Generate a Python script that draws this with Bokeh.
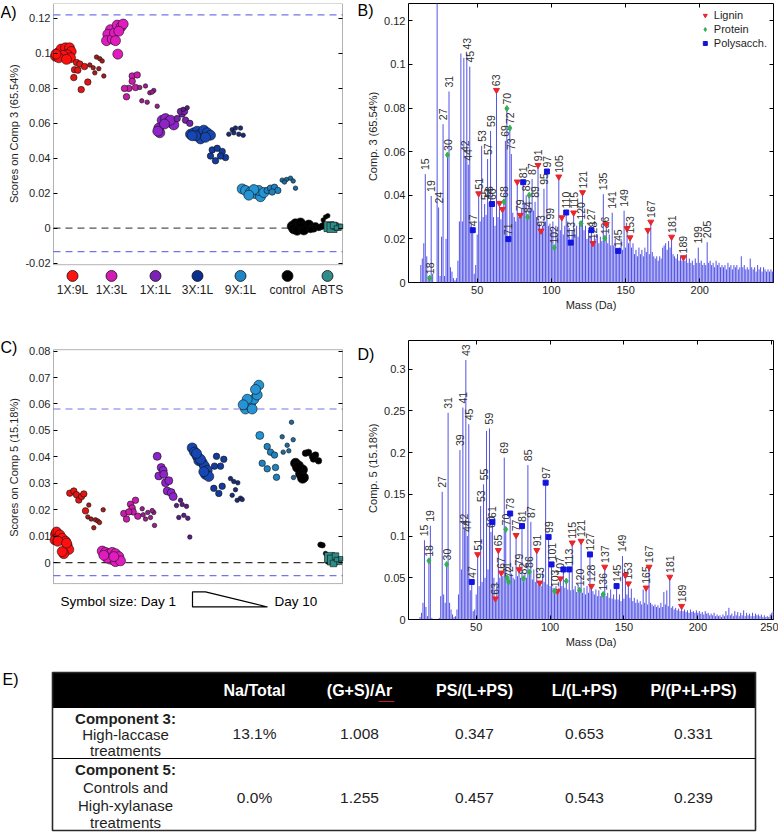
import math
from bokeh.plotting import figure
from bokeh.models import (Range1d, LinearAxis, FixedTicker, BoxAnnotation,
                          Label, ColumnDataSource, Legend, LegendItem)
from bokeh.layouts import row, column
from bokeh.embed import file_html
from bokeh.resources import INLINE
from bokeh.core.properties import value

# ======================= DATA =======================
TREATMENTS = ["1X:9L", "1X:3L", "1X:1L", "3X:1L", "9X:1L", "control", "ABTS"]
LEGEND_X = [72, 111, 155, 197, 240, 287, 327]

# Panel A: scores on component 3  (sample position, score, day)
A_1X9L = [(55.0, 0.0984, 1), (57.3, 0.1002, 1), (60.7, 0.1025, 1), (65.0, 0.1032, 1), (69.0, 0.1032, 1),
          (70.7, 0.1011, 1), (66.7, 0.0993, 1), (62.7, 0.0989, 1), (58.3, 0.0975, 1), (70.0, 0.0975, 1),
          (66.0, 0.0966, 1), (55.5, 0.0996, 1),
          (76.0, 0.0948, 5), (79.3, 0.0939, 5), (84.0, 0.0925, 5), (74.0, 0.0907, 5), (77.3, 0.0904, 5),
          (73.3, 0.0862, 5), (87.3, 0.0836, 5), (80.7, 0.0793, 5),
          (89.3, 0.0934, 9), (92.7, 0.0918, 9), (96.0, 0.0979, 9), (99.3, 0.0970, 9), (101.7, 0.0957, 9),
          (94.3, 0.0889, 9), (103.3, 0.0871, 9), (98.3, 0.0913, 9)]
A_1X3L = [(110.0, 0.1136, 1), (107.3, 0.1109, 1), (106.0, 0.1073, 1), (111.7, 0.1082, 1), (114.0, 0.1118, 1),
          (116.7, 0.1162, 1), (120.7, 0.1153, 1), (122.7, 0.1168, 1), (118.3, 0.1127, 1), (115.0, 0.1073, 1),
          (117.3, 0.0996, 1),
          (131.7, 0.0871, 5), (136.7, 0.0877, 5), (128.3, 0.0800, 5), (124.0, 0.0800, 5), (126.0, 0.0752, 5),
          (131.7, 0.0841, 5), (135.0, 0.0805, 5),
          (139.3, 0.0805, 9), (145.0, 0.0814, 9), (149.3, 0.0775, 9), (153.3, 0.0788, 9), (141.3, 0.0729, 9),
          (146.7, 0.0721, 9), (156.7, 0.0698, 9), (151.7, 0.0779, 9)]
A_1X1L = [(158.3, 0.0573, 1), (159.3, 0.0546, 1), (161.7, 0.0618, 1), (165.0, 0.0627, 1), (168.3, 0.0609, 1),
          (171.7, 0.0600, 1), (173.3, 0.0591, 1), (170.0, 0.0618, 1), (164.0, 0.0596, 1), (157.3, 0.0555, 1),
          (176.7, 0.0627, 5), (181.7, 0.0654, 5), (185.0, 0.0618, 5), (180.0, 0.0668, 5), (184.0, 0.0668, 5),
          (189.3, 0.0600, 5),
          (186.7, 0.0689, 9), (182.7, 0.0680, 9)]
A_3X1L = [(190.0, 0.0538, 1), (193.3, 0.0546, 1), (196.7, 0.0555, 1), (200.0, 0.0538, 1), (203.3, 0.0561, 1),
          (206.7, 0.0546, 1), (210.0, 0.0532, 1), (200.0, 0.0511, 1), (195.0, 0.0529, 1), (205.0, 0.0520, 1),
          (191.7, 0.0529, 1),
          (211.7, 0.0448, 5), (216.7, 0.0457, 5), (221.7, 0.0439, 5), (215.0, 0.0386, 5), (225.0, 0.0404, 5),
          (210.0, 0.0413, 5), (220.0, 0.0413, 5),
          (228.3, 0.0538, 9), (231.7, 0.0564, 9), (235.0, 0.0573, 9), (238.3, 0.0538, 9), (233.3, 0.0546, 9),
          (242.7, 0.0532, 9), (240.0, 0.0573, 9)]
A_9X1L = [(241.7, 0.0225, 1), (245.0, 0.0216, 1), (250.0, 0.0207, 1), (255.0, 0.0198, 1), (260.0, 0.0180, 1),
          (258.3, 0.0216, 1), (253.3, 0.0221, 1), (263.3, 0.0204, 1), (248.3, 0.0189, 1),
          (266.7, 0.0216, 5), (270.0, 0.0229, 5), (274.0, 0.0234, 5), (277.3, 0.0216, 5), (271.7, 0.0207, 5),
          (281.7, 0.0275, 9), (286.0, 0.0279, 9), (290.0, 0.0286, 9), (292.7, 0.0270, 9), (295.0, 0.0229, 9),
          (284.0, 0.0264, 9)]
A_CONTROL = [(291.7, 0.0011, 1), (295.0, 0.0025, 1), (298.3, 0.0002, 1), (301.7, 0.0014, 1), (305.0, 0.0007, 1),
             (308.3, 0.0018, 1), (293.3, -0.0004, 1), (296.7, -0.0012, 1), (303.3, -0.0010, 1), (300.0, 0.0030, 1),
             (311.7, 0.0007, 5), (315.0, 0.0014, 5), (318.3, 0.0004, 5), (313.3, -0.0004, 5), (321.7, 0.0011, 5),
             (310.0, -0.0008, 5),
             (322.7, 0.0047, 9), (325.0, 0.0064, 9), (327.3, 0.0071, 9), (323.3, 0.0025, 9)]
A_ABTS = [(328.5, 0.0009, 1), (331.5, 0.0004, 1), (334.5, 0.0012, 5), (337.5, 0.0006, 5), (340.0, 0.0010, 9),
          (333.0, 0.0016, 5), (336.0, 0.0001, 9)]
A_LIMITS = [0.1221, -0.0134]

# Panel C: scores on component 5
C_1X9L = [(55.0, 0.0107, 1), (56.0, 0.0116, 1), (59.3, 0.0105, 1), (61.7, 0.0092, 1), (65.0, 0.0081, 1),
          (66.7, 0.0065, 1), (68.3, 0.0050, 1), (63.3, 0.0034, 1), (61.7, 0.0042, 1), (54.5, 0.0086, 1),
          (57.3, 0.0081, 1), (66.0, 0.0074, 1),
          (69.3, 0.0263, 5), (73.3, 0.0271, 5), (76.0, 0.0257, 5), (78.3, 0.0237, 5), (81.0, 0.0250, 5),
          (83.3, 0.0260, 5), (85.0, 0.0196, 5),
          (88.3, 0.0218, 9), (87.3, 0.0173, 9), (90.7, 0.0165, 9), (93.3, 0.0132, 9), (95.0, 0.0162, 9),
          (97.3, 0.0158, 9), (99.0, 0.0152, 9), (102.7, 0.0200, 9)]
C_1X3L = [(101.7, 0.0044, 1), (105.0, 0.0039, 1), (108.3, 0.0034, 1), (111.7, 0.0039, 1), (115.0, 0.0034, 1),
          (118.3, 0.0023, 1), (110.0, 0.0013, 1), (115.0, 0.0004, 1), (106.7, 0.0018, 1), (120.0, 0.0007, 1),
          (113.3, 0.0023, 1), (103.3, 0.0028, 1),
          (123.3, 0.0186, 5), (126.0, 0.0165, 5), (130.0, 0.0221, 5), (131.7, 0.0207, 5), (135.0, 0.0236, 5),
          (137.3, 0.0176, 5), (132.7, 0.0192, 5), (128.3, 0.0192, 5),
          (141.7, 0.0204, 9), (145.0, 0.0165, 9), (147.3, 0.0190, 9), (150.0, 0.0171, 9), (153.3, 0.0190, 9),
          (154.0, 0.0141, 9), (142.7, 0.0181, 9), (151.7, 0.0197, 9)]
C_1X1L = [(156.7, 0.0402, 3), (158.3, 0.0328, 3), (160.7, 0.0360, 3), (162.7, 0.0349, 3), (165.0, 0.0302, 3),
          (168.3, 0.0310, 3), (166.7, 0.0271, 3), (170.7, 0.0265, 3), (172.7, 0.0250, 3), (163.3, 0.0334, 3),
          (176.0, 0.0216, 9), (180.0, 0.0236, 9), (181.7, 0.0220, 9), (186.0, 0.0213, 9), (178.3, 0.0171, 9),
          (183.3, 0.0179, 9), (187.3, 0.0168, 9), (189.3, 0.0097, 9)]
C_3X1L = [(191.7, 0.0434, 1), (194.0, 0.0418, 1), (196.7, 0.0402, 1), (198.3, 0.0386, 1), (201.7, 0.0379, 1),
          (204.0, 0.0365, 1), (206.7, 0.0349, 1), (205.0, 0.0334, 1), (208.3, 0.0326, 1), (203.3, 0.0344, 1),
          (200.0, 0.0391, 1), (196.0, 0.0413, 1),
          (213.3, 0.0281, 5), (218.3, 0.0262, 5), (221.7, 0.0289, 5), (216.0, 0.0402, 5), (220.0, 0.0365, 5),
          (223.3, 0.0391, 5), (214.0, 0.0365, 5),
          (230.0, 0.0318, 9), (233.3, 0.0307, 9), (237.3, 0.0302, 9), (235.0, 0.0276, 9), (240.0, 0.0244, 9),
          (231.7, 0.0255, 9), (236.7, 0.0236, 9), (241.7, 0.0239, 9)]
C_9X1L = [(245.0, 0.0581, 1), (248.3, 0.0597, 1), (250.7, 0.0607, 1), (253.3, 0.0618, 1), (256.7, 0.0634, 1),
          (258.3, 0.0671, 1), (255.0, 0.0655, 1), (246.7, 0.0618, 1), (242.7, 0.0597, 1), (251.7, 0.0581, 1),
          (259.3, 0.0481, 3),
          (266.7, 0.0439, 5), (270.0, 0.0418, 5), (274.0, 0.0407, 5), (261.7, 0.0376, 5), (266.7, 0.0355, 5),
          (275.0, 0.0360, 5), (276.0, 0.0323, 5),
          (281.7, 0.0476, 9), (286.7, 0.0444, 9), (282.7, 0.0418, 9), (288.3, 0.0423, 9), (292.7, 0.0465, 9),
          (291.0, 0.0531, 9), (293.0, 0.0322, 9)]
C_CONTROL = [(295.0, 0.0376, 1), (298.0, 0.0366, 1), (302.0, 0.0351, 1), (300.0, 0.0335, 1), (303.0, 0.0322, 1),
             (297.0, 0.0360, 1), (302.0, 0.0319, 1),
             (305.0, 0.0414, 5), (308.0, 0.0417, 5), (312.0, 0.0401, 5), (315.0, 0.0407, 5), (318.0, 0.0385, 5),
             (313.0, 0.0392, 5),
             (322.0, 0.0066, 7), (320.0, 0.0068, 7), (325.0, 0.0035, 9), (327.0, 0.0003, 9)]
C_ABTS = [(329.0, 0.0020, 1), (332.0, 0.0010, 1), (335.0, 0.0025, 5), (338.0, 0.0005, 5), (340.0, 0.0015, 9),
          (333.0, -0.0003, 5), (336.0, 0.0012, 9)]
C_LIMITS = [0.0581, -0.0049]

# Panel B: loadings on component 3, masses 12..250
B_MASS = list(range(12, 251))
B_VAL = [0.008, 0.011, 0.018, 0.0497, 0.012, 0.003, 0.002, 0.0397, 0.004, 0.000,
         0.000, 0.160, 0.0344, 0.003, 0.021, 0.0726, 0.003, 0.020, 0.0585, 0.0876,
         0.007, 0.005, 0.002, 0.001, 0.002, 0.010, 0.028, 0.105, 0.028, 0.103,
         0.058, 0.105, 0.054, 0.099, 0.027, 0.024, 0.004, 0.008, 0.022, 0.0408,
         0.028, 0.0627, 0.030, 0.036, 0.031, 0.0566, 0.037, 0.0695, 0.036, 0.030,
         0.026, 0.0882, 0.030, 0.0364, 0.029, 0.0336, 0.037, 0.065, 0.0798, 0.0199,
         0.0708, 0.0589, 0.032, 0.030, 0.028, 0.0462, 0.030, 0.0309, 0.034, 0.046,
         0.036, 0.040, 0.030, 0.040, 0.034, 0.0475, 0.033, 0.037, 0.030, 0.0538,
         0.027, 0.0237, 0.026, 0.043, 0.028, 0.0509, 0.026, 0.027, 0.024, 0.028,
         0.016, 0.026, 0.022, 0.0485, 0.024, 0.0298, 0.022, 0.026, 0.0321, 0.028,
         0.025, 0.0183, 0.024, 0.032, 0.022, 0.026, 0.021, 0.028, 0.027, 0.0413,
         0.024, 0.026, 0.020, 0.024, 0.021, 0.024, 0.018, 0.022, 0.020, 0.022,
         0.018, 0.021, 0.019, 0.0405, 0.0203, 0.0267, 0.018, 0.022, 0.017, 0.032,
         0.017, 0.020, 0.015, 0.0145, 0.016, 0.020, 0.015, 0.0329, 0.016, 0.0248,
         0.018, 0.0206, 0.016, 0.018, 0.013, 0.015, 0.012, 0.016, 0.013, 0.015,
         0.012, 0.016, 0.014, 0.024, 0.013, 0.0278, 0.014, 0.012, 0.011, 0.012,
         0.010, 0.012, 0.011, 0.016, 0.017, 0.018, 0.015, 0.019, 0.016, 0.0209,
         0.013, 0.012, 0.011, 0.013, 0.010, 0.012, 0.010, 0.0115, 0.010, 0.013,
         0.009, 0.011, 0.009, 0.010, 0.008, 0.011, 0.009, 0.016, 0.009, 0.010,
         0.008, 0.009, 0.008, 0.0185, 0.009, 0.010, 0.008, 0.009, 0.007, 0.010,
         0.008, 0.009, 0.007, 0.008, 0.007, 0.008, 0.006, 0.009, 0.007, 0.008,
         0.006, 0.008, 0.007, 0.008, 0.006, 0.007, 0.012, 0.007, 0.008, 0.006,
         0.007, 0.006, 0.011, 0.007, 0.006, 0.007, 0.005, 0.008, 0.006, 0.007,
         0.005, 0.007, 0.006, 0.005, 0.006, 0.005, 0.006, 0.005, 0.005]
B_LIGNIN = [51, 63, 65, 67, 77, 79, 91, 93, 105, 107, 115, 121, 128, 137, 151, 153, 165, 167, 181, 189]
B_PROTEIN = [18, 30, 68, 70, 72, 84, 85, 102, 120, 136]
B_POLYSACCH = [47, 60, 71, 81, 97, 110, 113, 127, 145]
B_LABELED = [15, 18, 19, 24, 27, 30, 31, 42, 43, 44, 45, 47, 51, 53, 55, 57, 58, 59, 60, 63, 68, 69, 70,
             71, 72, 73, 79, 81, 83, 84, 87, 89, 91, 93, 95, 97, 99, 102, 105, 110, 113, 115, 120, 121,
             127, 128, 135, 136, 141, 145, 149, 153, 167, 181, 189, 199, 205]

# Panel D: loadings on component 5, masses 12..252
D_MASS = list(range(12, 253))
D_VAL = [0.003, 0.008, 0.020, 0.095, 0.015, 0.004, 0.0703, 0.1123, 0.002, 0.000,
         0.000, 0.000, 0.000, 0.002, 0.028, 0.153, 0.030, 0.020, 0.066, 0.2477,
         0.020, 0.012, 0.006, 0.003, 0.004, 0.012, 0.030, 0.203, 0.060, 0.254,
         0.108, 0.311, 0.100, 0.234, 0.035, 0.045, 0.010, 0.012, 0.030, 0.078,
         0.040, 0.136, 0.045, 0.162, 0.050, 0.226, 0.060, 0.229, 0.105, 0.117,
         0.050, 0.025, 0.045, 0.083, 0.050, 0.056, 0.052, 0.194, 0.108, 0.050,
         0.045, 0.127, 0.055, 0.050, 0.048, 0.101, 0.052, 0.060, 0.050, 0.112,
         0.049, 0.055, 0.050, 0.185, 0.057, 0.117, 0.048, 0.060, 0.045, 0.083,
         0.042, 0.044, 0.040, 0.058, 0.045, 0.164, 0.042, 0.099, 0.040, 0.066,
         0.038, 0.034, 0.040, 0.034, 0.038, 0.049, 0.040, 0.060, 0.038, 0.046,
         0.036, 0.060, 0.035, 0.092, 0.036, 0.040, 0.033, 0.042, 0.035, 0.094,
         0.032, 0.038, 0.030, 0.040, 0.032, 0.078, 0.040, 0.034, 0.030, 0.036,
         0.028, 0.035, 0.028, 0.032, 0.030, 0.063, 0.028, 0.032, 0.026, 0.036,
         0.025, 0.030, 0.024, 0.040, 0.024, 0.030, 0.022, 0.076, 0.025, 0.053,
         0.030, 0.043, 0.026, 0.037, 0.022, 0.026, 0.020, 0.024, 0.020, 0.022,
         0.018, 0.036, 0.020, 0.038, 0.018, 0.063, 0.020, 0.018, 0.016, 0.018,
         0.015, 0.017, 0.014, 0.020, 0.015, 0.033, 0.018, 0.035, 0.016, 0.051,
         0.014, 0.016, 0.012, 0.014, 0.011, 0.013, 0.010, 0.016, 0.010, 0.012,
         0.009, 0.011, 0.008, 0.012, 0.009, 0.010, 0.008, 0.011, 0.008, 0.010,
         0.007, 0.009, 0.006, 0.010, 0.007, 0.008, 0.005, 0.007, 0.005, 0.008,
         0.004, 0.006, 0.004, 0.005, 0.003, 0.006, 0.004, 0.010, 0.005, 0.014,
         0.005, 0.007, 0.004, 0.010, 0.005, 0.009, 0.004, 0.008, 0.005, 0.011,
         0.004, 0.008, 0.005, 0.007, 0.004, 0.008, 0.004, 0.007, 0.005, 0.006,
         0.004, 0.006, 0.003, 0.005, 0.003, 0.004, 0.003, 0.006, 0.008, 0.010, 0.007]
D_LIGNIN = [51, 63, 65, 67, 77, 79, 91, 93, 105, 107, 115, 121, 128, 137, 151, 153, 165, 167, 181, 189]
D_PROTEIN = [18, 30, 70, 71, 72, 82, 86, 103, 111, 120, 136]
D_POLYSACCH = [47, 61, 73, 81, 97, 99, 101, 109, 113, 127, 145]
D_LABELED = [15, 18, 19, 27, 30, 31, 39, 41, 42, 43, 44, 45, 47, 51, 53, 55, 59, 60, 61, 63, 65, 67, 69,
             70, 71, 72, 73, 77, 79, 81, 82, 85, 86, 87, 91, 93, 97, 99, 101, 103, 107, 113, 115, 120,
             121, 127, 128, 136, 137, 145, 149, 153, 165, 167, 181, 189]

# Table E
TABLE_HEADERS = ["Na/Total", "(G+S)/Ar", "PS/(L+PS)", "L/(L+PS)", "P/(P+L+PS)"]
TABLE_ROW1_NAME = ["Component 3:", "High-laccase", "treatments"]
TABLE_ROW1 = ["13.1%", "1.008", "0.347", "0.653", "0.331"]
TABLE_ROW2_NAME = ["Component 5:", "Controls and", "High-xylanase", "treatments"]
TABLE_ROW2 = ["0.0%", "1.255", "0.457", "0.543", "0.239"]

A_YTICKS = [-0.02, 0, 0.02, 0.04, 0.06, 0.08, 0.1, 0.12]
A_YLABELS = ["-0.02", "0", "0.02", "0.04", "0.06", "0.08", "0.1", "0.12"]
C_YTICKS = [0, 0.01, 0.02, 0.03, 0.04, 0.05, 0.06, 0.07, 0.08]
C_YLABELS = ["0", "0.01", "0.02", "0.03", "0.04", "0.05", "0.06", "0.07", "0.08"]
B_YTICKS = [0, 0.02, 0.04, 0.06, 0.08, 0.1, 0.12]
B_YLABELS = ["0", "0.02", "0.04", "0.06", "0.08", "0.1", "0.12"]
D_YTICKS = [0, 0.05, 0.1, 0.15, 0.2, 0.25, 0.3]
D_YLABELS = ["0", "0.05", "0.1", "0.15", "0.2", "0.25", "0.3"]
B_XTICKS = [50, 100, 150, 200]
D_XTICKS = [50, 100, 150, 200, 250]

# ======================= STYLE =======================
FONT = "Liberation Sans"
INK = "#1e1e1e"
BAR = "#5252E6"
LIMIT_BLUE = "#7474EA"
GROUP_SHADES = {
    "1X:9L": ("#FF1010", "#E01616", "#A41C1C"),
    "1X:3L": ("#E01CBE", "#C91CAA", "#9A1F8C"),
    "1X:1L": ("#8E24C8", "#7622AA", "#5B1C88"),
    "3X:1L": ("#1646B2", "#133A9C", "#1B2D7A"),
    "9X:1L": ("#2494D4", "#1F82BE", "#1B6C9E"),
    "control": ("#000000", "#000000", "#000000"),
    "ABTS": ("#2E8C86", "#2E8C86", "#2E8C86"),
}
LEGEND_COLORS = ["#FF1414", "#D21CB4", "#7A22B5", "#0B2F8F", "#1E86C6", "#000000", "#2F8C89"]
DAY_SIZE = {1: 10.0, 3: 8.0, 5: 6.5, 7: 5.5, 9: 4.5}
LEFT_W = 380          # width of the left-hand (score) figures
RIGHT_W = 398         # width of the right-hand (spectrum) figures


def shade(day):
    return 0 if day <= 3 else (1 if day <= 5 else 2)


def base_fig(w, h, xr, yr, left, right, top, bottom, **kw):
    p = figure(width=w, height=h, x_range=xr, y_range=yr, output_backend="svg",
               toolbar_location=None, min_border_left=left, min_border_right=right,
               min_border_top=top, min_border_bottom=bottom, **kw)
    p.grid.visible = False
    p.background_fill_color = "white"
    p.border_fill_color = "white"
    return p


def style_axis(ax, size="11px"):
    ax.major_label_text_font = FONT
    ax.major_label_text_font_size = size
    ax.major_label_text_color = INK
    ax.axis_label_text_font = FONT
    ax.axis_label_text_font_size = "11px"
    ax.axis_label_text_font_style = "normal"
    ax.axis_label_text_color = INK
    ax.major_tick_in = 4
    ax.major_tick_out = 0
    ax.major_tick_line_color = "black"
    ax.minor_tick_line_color = None
    ax.axis_line_color = None
    ax.major_label_standoff = 3
    ax.axis_label_standoff = 3


def set_ticks(ax, ticks, labels=None):
    ax.ticker = FixedTicker(ticks=ticks)
    if labels is not None:
        ax.major_label_overrides = dict(zip(ticks, labels))


def mirror_axis(p, side, ticks, at=None):
    # inward ticks only (Matlab box style), no labels painted
    ax = LinearAxis(ticker=FixedTicker(ticks=ticks), fixed_location=at)
    style_axis(ax)
    ax.major_label_text_font_size = "1px"
    ax.major_label_text_color = None
    ax.major_label_standoff = 0
    p.add_layout(ax, side)


def draw_points(p, pts, group, marker="circle"):
    pts = sorted(pts, key=lambda t: t[2])
    src = ColumnDataSource(dict(
        x=[t[0] for t in pts], y=[t[1] for t in pts],
        size=[DAY_SIZE[t[2]] for t in pts],
        color=[GROUP_SHADES[group][shade(t[2])] for t in pts]))
    p.scatter("x", "y", size="size", fill_color="color", line_color="#101010",
              line_width=0.6, marker=marker, source=src)


def panel_label(p, text, x, y):
    p.add_layout(Label(x=x, y=y, text=text, text_font=FONT, text_font_size="16px",
                       text_color="black", text_baseline="middle", text_align="left"))


def rotated_title(p, text, x, y):
    p.text(x=[x], y=[y], text=[text], angle=math.pi / 2, text_align="center", text_baseline="middle",
           text_font=value(FONT), text_font_size="11px", text_color=INK)


def score_panel(fig_top, height, btop, bbot, box_top, box_bot, zero_px, ppu, ticks, labels, limits,
                zero_color, groups, abts, ylabel, ylabel_px, **kw):
    """Left-hand score plot; the frame spans the whole figure width so panel letters fit inside."""
    def yv(px):
        return (zero_px - px) / ppu
    p = base_fig(LEFT_W, height, Range1d(0, LEFT_W),
                 Range1d(yv(fig_top + height - bbot), yv(fig_top + btop)),
                 0, 0, btop, bbot, y_axis_location=None, **kw)
    p.outline_line_color = None
    yax = LinearAxis(fixed_location=53)
    style_axis(yax)
    set_ticks(yax, ticks, labels)
    p.add_layout(yax, "left")
    mirror_axis(p, "right", ticks, at=342)
    p.add_layout(BoxAnnotation(left=53, right=342, bottom=yv(box_bot), top=yv(box_top), fill_alpha=0,
                               line_color="black", line_width=1))
    p.segment(x0=[53] * len(limits), y0=limits, x1=[342] * len(limits), y1=limits,
              line_color=LIMIT_BLUE, line_dash="7 5", line_width=1.2)
    p.segment(x0=[53], y0=[0], x1=[342], y1=[0], line_color=zero_color, line_dash="7 5", line_width=1.2)
    for pts, g in groups:
        draw_points(p, pts, g)
    draw_points(p, abts, "ABTS", marker="square")
    rotated_title(p, ylabel, 13, yv(ylabel_px))
    return p, yv


# ======================= PANEL A (screen rows 0..320) =======================
pA, a_y = score_panel(0, 320, 2, 20, 2, 281, 242.0, 1866.7, A_YTICKS, A_YLABELS, A_LIMITS, "#555555",
                      [(A_1X9L, "1X:9L"), (A_1X3L, "1X:3L"), (A_1X1L, "1X:1L"), (A_3X1L, "3X:1L"),
                       (A_9X1L, "9X:1L"), (A_CONTROL, "control")], A_ABTS,
                      "Scores on Comp 3 (65.54%)", 141)
xa = pA.xaxis[0]
style_axis(xa, "12px")
set_ticks(xa, LEGEND_X, TREATMENTS)
xa.major_tick_in = 0
xa.major_tick_line_color = None
xa.major_label_standoff = 0
pA.scatter(x=LEGEND_X, y=[a_y(293)] * len(LEGEND_X), size=11, fill_color=LEGEND_COLORS,
           line_color="#111111", line_width=0.8)
panel_label(pA, "A)", 0, a_y(12))
panel_label(pA, "B)", 357, a_y(10))
rotated_title(pA, "Comp. 3 (65.54%)", 372, a_y(144))

# ======================= PANEL C (screen rows 320..662) =======================
pC, c_y = score_panel(320, 342, 8, 0, 339, 619, 594.0, 3166.7, C_YTICKS, C_YLABELS, C_LIMITS, "#333333",
                      [(C_1X9L, "1X:9L"), (C_1X3L, "1X:3L"), (C_1X1L, "1X:1L"), (C_3X1L, "3X:1L"),
                       (C_9X1L, "9X:1L"), (C_CONTROL, "control")], C_ABTS,
                      "Scores on Comp 5 (15.18%)", 480, x_axis_location=None)
pC.text(x=[60, 274], y=[c_y(640)] * 2, text=["Symbol size: Day 1", "Day 10"],
        text_font=value(FONT), text_font_size="13.5px", text_color="black", text_baseline="middle")
pC.patch(x=[192, 205, 267, 192], y=[c_y(629), c_y(629), c_y(647), c_y(647)],
         fill_alpha=0, line_color="black", line_width=1.2)
panel_label(pC, "C)", 0, c_y(336))
panel_label(pC, "D)", 357, c_y(345))
rotated_title(pC, "Comp. 5 (15.18%)", 372, c_y(481))


# ======================= PANELS B / D =======================
def spectrum_panel(height, top, bottom, xr, ytop, yticks, ylabels, xticks, masses, vals, lig, pro, poly,
                   labeled, legend=False):
    p = base_fig(RIGHT_W, height, xr, Range1d(0, ytop), 408 - LEFT_W, 5, top, bottom)
    p.outline_line_color = "black"
    style_axis(p.yaxis[0]); set_ticks(p.yaxis[0], yticks, ylabels)
    style_axis(p.xaxis[0]); set_ticks(p.xaxis[0], xticks)
    p.xaxis[0].axis_label = "Mass (Da)"
    p.xaxis[0].axis_label_standoff = 2
    mirror_axis(p, "right", yticks)
    mirror_axis(p, "above", xticks)
    lut = dict(zip(masses, vals))
    p.segment(x0="m", y0=0, x1="m", y1="v", line_color=BAR, line_width=1,
              source=ColumnDataSource(dict(m=masses, v=vals)))
    p.text(x="m", y="v", text="t", angle=math.pi / 2, text_align="left", text_baseline="middle",
           text_font=value(FONT), text_font_size="10.5px", text_color="#303030", y_offset=-4,
           source=ColumnDataSource(dict(m=labeled, v=[lut[m] for m in labeled],
                                        t=[str(m) for m in labeled])))
    rL = p.scatter(lig, [lut[m] for m in lig], marker="inverted_triangle", size=6,
                   fill_color="#E8262B", line_color="#E8262B")
    rP = p.scatter(pro, [lut[m] for m in pro], marker="diamond", size=6,
                   fill_color="#35B050", line_color="#35B050")
    rS = p.scatter(poly, [lut[m] for m in poly], marker="square", size=5,
                   fill_color="#1414E0", line_color="#1414E0")
    if legend:
        lg = Legend(items=[LegendItem(label="Lignin", renderers=[rL]),
                           LegendItem(label="Protein", renderers=[rP]),
                           LegendItem(label="Polysacch.", renderers=[rS])],
                    location="top_right", border_line_color=None, background_fill_alpha=0,
                    label_text_font=FONT, label_text_font_size="11px", label_text_color=INK,
                    glyph_width=10, glyph_height=12, label_height=12, spacing=2,
                    padding=2, margin=6, label_standoff=4)
        p.add_layout(lg)
    return p


pB = spectrum_panel(320, 3, 38, Range1d(3.7, 249.7), 279 / 2180.6, B_YTICKS, B_YLABELS, B_XTICKS,
                    B_MASS, B_VAL, B_LIGNIN, B_PROTEIN, B_POLYSACCH, B_LABELED, legend=True)
pD = spectrum_panel(342, 20, 43, Range1d(4.2, 251.2), 279 / 834.4, D_YTICKS, D_YLABELS, D_XTICKS,
                    D_MASS, D_VAL, D_LIGNIN, D_PROTEIN, D_POLYSACCH, D_LABELED)

# ======================= TABLE E (screen rows 662..832) =======================
pE = figure(width=778, height=170, x_range=Range1d(0, 778), y_range=Range1d(170, 0),
            output_backend="svg", toolbar_location=None, min_border=0,
            x_axis_location=None, y_axis_location=None)
pE.grid.visible = False
pE.outline_line_color = None
T_L, T_R, T_TOP, T_H1, T_H2, T_BOT = 52, 755, 10, 45, 96, 168
COLS = [254, 359, 474, 584, 693]
pE.quad(left=[T_L], right=[T_R], top=[T_TOP], bottom=[T_H1], fill_color="black", line_color="black")
pE.quad(left=[T_L], right=[T_R], top=[T_TOP], bottom=[T_BOT], fill_alpha=0, line_color="#2a2a2a",
        line_width=1.6)
pE.segment(x0=[T_L], y0=[T_H2], x1=[T_R], y1=[T_H2], line_color="black", line_width=1.2)
pE.segment(x0=[378], y0=[39], x1=[394], y1=[39], line_color="#C02020", line_width=1)
pE.text(x=COLS, y=[28] * 5, text=TABLE_HEADERS, text_font=value(FONT), text_font_style="bold",
        text_font_size="16px", text_color="white", text_align="center", text_baseline="middle")
pE.text(x=COLS, y=[71] * 5, text=TABLE_ROW1, text_font=value(FONT), text_font_size="15.5px",
        text_color=INK, text_align="center", text_baseline="middle")
pE.text(x=COLS, y=[135] * 5, text=TABLE_ROW2, text_font=value(FONT), text_font_size="15.5px",
        text_color=INK, text_align="center", text_baseline="middle")
pE.text(x=[125], y=[56], text=TABLE_ROW1_NAME[:1], text_font=value(FONT), text_font_style="bold",
        text_font_size="15px", text_color=INK, text_align="center", text_baseline="middle")
pE.text(x=[125, 125], y=[72, 88], text=TABLE_ROW1_NAME[1:], text_font=value(FONT),
        text_font_size="15px", text_color=INK, text_align="center", text_baseline="middle")
pE.text(x=[125], y=[107], text=TABLE_ROW2_NAME[:1], text_font=value(FONT), text_font_style="bold",
        text_font_size="15px", text_color=INK, text_align="center", text_baseline="middle")
pE.text(x=[125, 125, 125], y=[125, 143, 160], text=TABLE_ROW2_NAME[1:], text_font=value(FONT),
        text_font_size="15px", text_color=INK, text_align="center", text_baseline="middle")
pE.add_layout(Label(x=2, y=17, text="E)", text_font=FONT, text_font_size="16px",
                    text_color="black", text_baseline="middle"))

layout = column(row(pA, pB), row(pC, pD), pE)
open("out.html", "w").write(file_html(layout, INLINE))
